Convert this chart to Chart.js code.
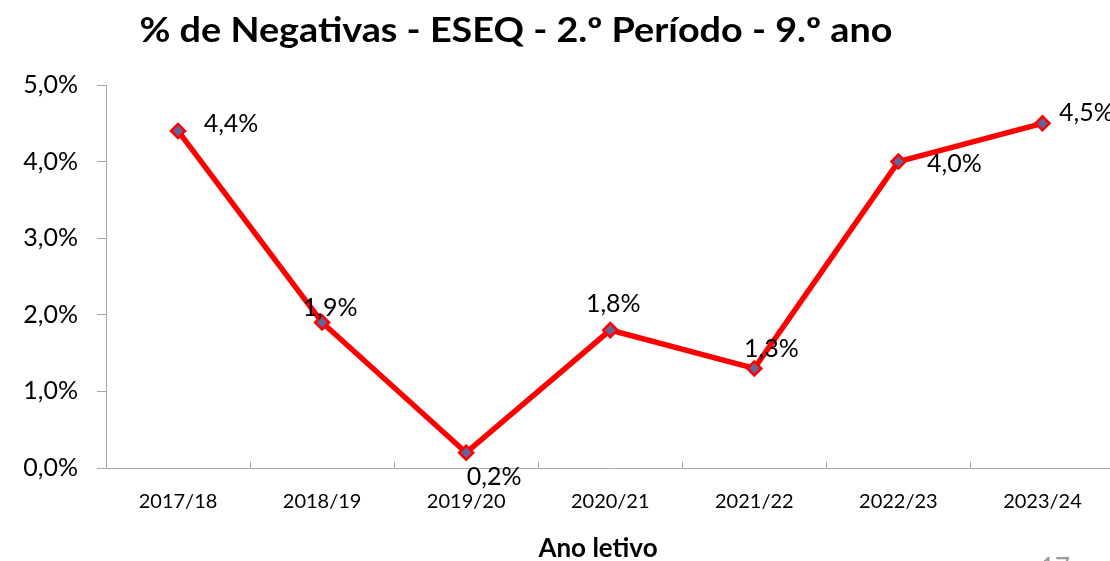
<!DOCTYPE html>
<html>
<head>
<meta charset="utf-8">
<script src="https://cdn.jsdelivr.net/npm/chart.js@4.4.1/dist/chart.umd.min.js"></script>
<style>
    html, body { margin: 0; padding: 0; background: #fff; overflow: hidden; }
    canvas { display: block; }
</style>
</head>
<body>
<canvas id="chart" width="1124" height="561"></canvas>
<script>
// Data
const years = ['2017/18', '2018/19', '2019/20', '2020/21', '2021/22', '2022/23', '2023/24'];
const negativas = [4.4, 1.9, 0.2, 1.8, 1.3, 4.0, 4.5];
const yTicks = [0, 1, 2, 3, 4, 5];

const titleText = '% de Negativas - ESEQ - 2.º Período - 9.º ano';
const xTitleText = 'Ano letivo';

// label nudges (px from the point, text centre)
const labelNudges = [[53, -7], [8, -15], [28, 24], [3, -26], [17, -19], [56, 2], [44, -10]];

const fmt = v => v.toFixed(1).replace('.', ',') + '%';
const axisGrey = '#a6a6a6';

// Draw titles, data labels and the inner x tick marks
const extrasPlugin = {
    id: 'extras',
    afterDatasetsDraw(chart) {
        const ctx = chart.ctx;
        const meta = chart.getDatasetMeta(0);
        ctx.save();
        ctx.fillStyle = '#000';
        ctx.font = '25px Lato';
        ctx.textAlign = 'center';
        ctx.textBaseline = 'middle';
        meta.data.forEach((pt, i) => {
            const [dx, dy] = labelNudges[i];
            ctx.fillText(fmt(negativas[i]), pt.x + dx, pt.y + dy);
        });
        ctx.restore();
    },
    afterDraw(chart) {
        const ctx = chart.ctx;
        const area = chart.chartArea;
        const x = chart.scales.x;
        ctx.save();
        // tick marks between categories, pointing up
        ctx.strokeStyle = axisGrey;
        ctx.lineWidth = 1;
        for (let i = 0; i < years.length - 1; i++) {
            const px = Math.round((x.getPixelForTick(i) + x.getPixelForTick(i + 1)) / 2) + 0.5;
            ctx.beginPath();
            ctx.moveTo(px, area.bottom);
            ctx.lineTo(px, area.bottom - 6);
            ctx.stroke();
        }
        // chart title, stretched a bit to the reference width
        ctx.fillStyle = '#000';
        ctx.textAlign = 'center';
        ctx.textBaseline = 'middle';
        ctx.font = 'bold 34px Lato';
        const w = ctx.measureText(titleText).width;
        ctx.save();
        ctx.translate(516, 31);
        ctx.scale(753 / w, 1);
        ctx.fillText(titleText, 0, 0);
        ctx.restore();
        // x axis title
        ctx.font = 'bold 26px Lato';
        ctx.fillText(xTitleText, 598, 549);
        // page number peeking at the bottom edge
        ctx.fillStyle = '#9a9a9a';
        ctx.textAlign = 'left';
        ctx.textBaseline = 'top';
        ctx.font = '26px Lato';
        ctx.fillText('17', 1040, 556);
        ctx.restore();
    }
};

new Chart(document.getElementById('chart'), {
    type: 'line',
    data: {
        labels: years,
        datasets: [{
            label: '% de Negativas',
            data: negativas,
            borderColor: '#ff0000',
            borderWidth: 5.5,
            backgroundColor: '#62649a',
            pointStyle: 'rectRot',
            pointRadius: 7,
            pointBorderWidth: 2.5,
            pointBorderColor: '#ff0000',
            pointBackgroundColor: '#62649a',
            tension: 0,
            fill: false
        }]
    },
    options: {
        responsive: false,
        animation: false,
        layout: { padding: { top: 85, right: 2, left: 0, bottom: 0 } },
        plugins: {
            legend: { display: false },
            tooltip: { enabled: false }
        },
        scales: {
            x: {
                type: 'category',
                offset: true,
                grid: { display: false },
                border: { display: true, color: axisGrey, width: 1 },
                ticks: {
                    color: '#000',
                    font: { family: 'Lato', size: 20 },
                    padding: 14,
                    maxRotation: 0
                },
                afterFit(scale) { scale.height = 93; }
            },
            y: {
                min: 0,
                max: 5,
                afterBuildTicks(scale) { scale.ticks = yTicks.map(v => ({ value: v })); },
                grid: {
                    drawOnChartArea: false,
                    drawTicks: true,
                    tickLength: 9,
                    color: axisGrey
                },
                border: { display: true, color: axisGrey, width: 1 },
                ticks: {
                    color: '#000',
                    font: { family: 'Lato', size: 25 },
                    padding: 19,
                    callback: v => fmt(v)
                },
                afterFit(scale) { scale.width = 106; }
            }
        }
    },
    plugins: [extrasPlugin]
});
</script>
</body>
</html>
